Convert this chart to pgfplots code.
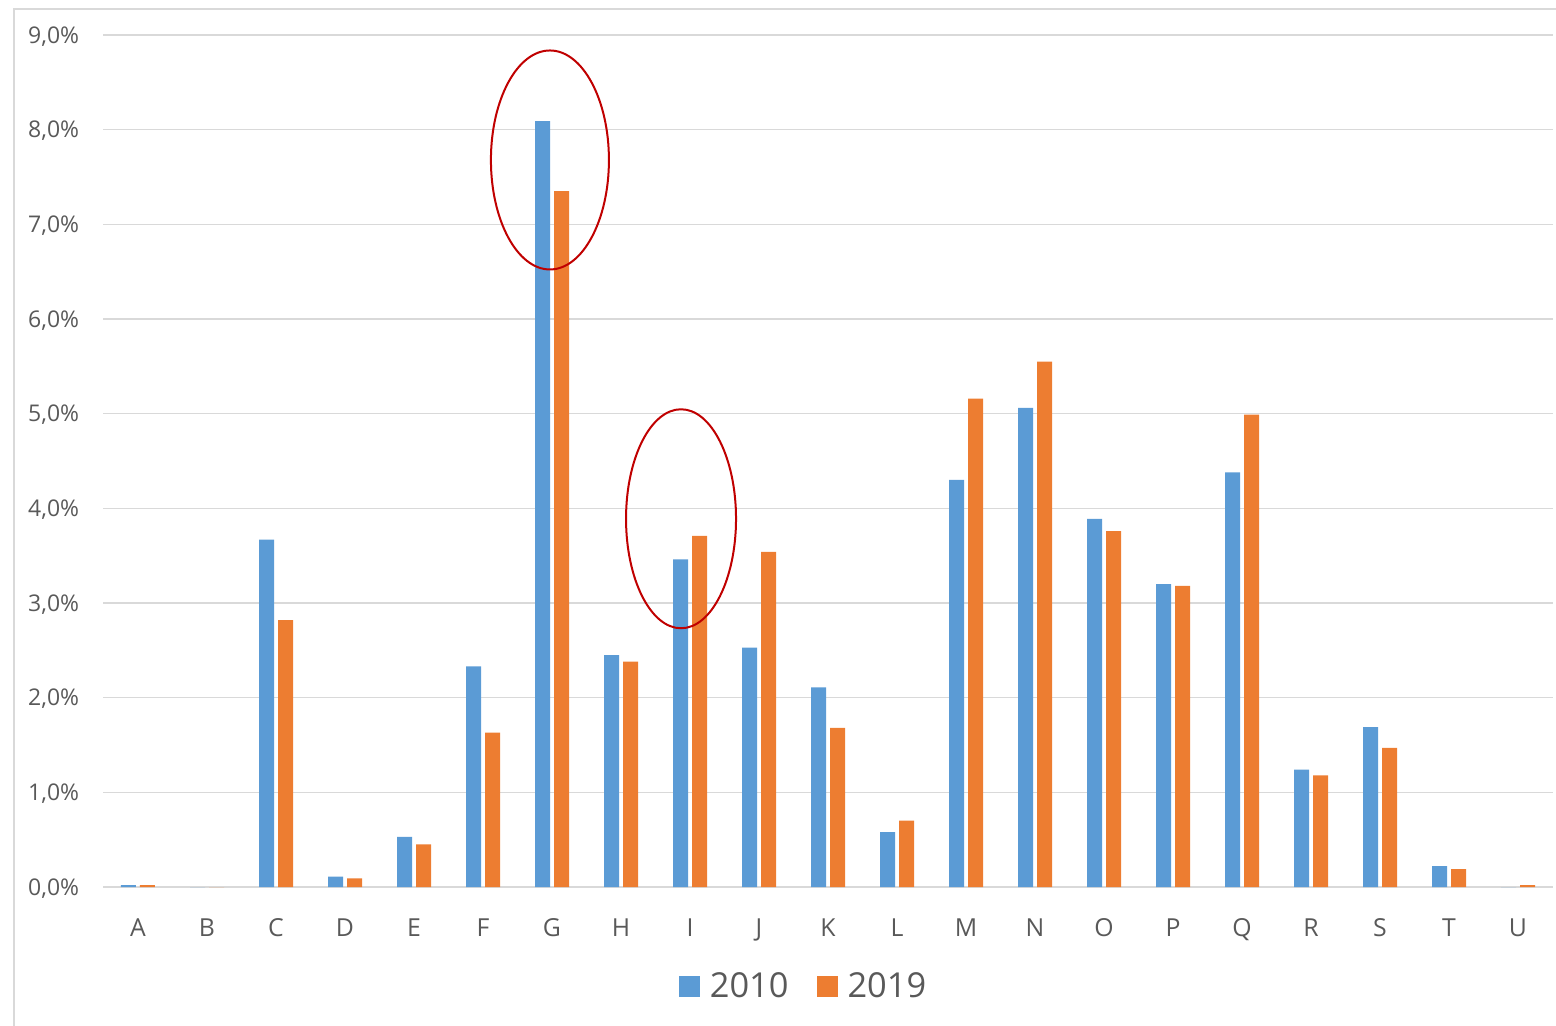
\documentclass[border=0pt]{standalone}
\usepackage{fontspec}
\setmainfont{Open Sans}
\usepackage{pgfplots}
\pgfplotsset{compat=1.18}

\definecolor{barblue}{HTML}{5B9BD5}
\definecolor{barorange}{HTML}{ED7D31}
\definecolor{gridgray}{HTML}{D9D9D9}
\definecolor{textgray}{HTML}{595959}
\definecolor{ringred}{HTML}{C00000}

\begin{document}
\begin{tikzpicture}
% picture size: 1px of the reference = 0.5pt
\useasboundingbox (-51.75pt,-69pt) rectangle (726.25pt,443.5pt);
\draw[gridgray, line width=1pt] (-44.75pt,-80pt) -- (-44.75pt,439pt) -- (740pt,439pt);
\begin{axis}[
    at={(0,0)}, anchor=south west,
    scale only axis,
    width=724.5pt, height=426pt,
    xmin=-0.5, xmax=20.5,
    ymin=0, ymax=9,
    ybar, bar width=7.5pt,
    clip=false,
    axis line style={draw=none},
    major tick length=0pt,
    ymajorgrids,
    grid style={gridgray, line width=0.8pt},
    xtick={0,...,20},
    xticklabels={A,B,C,D,E,F,G,H,I,J,K,L,M,N,O,P,Q,R,S,T,U},
    ytick={0,1,...,9},
    yticklabels={{0,0\%},{1,0\%},{2,0\%},{3,0\%},{4,0\%},{5,0\%},{6,0\%},{7,0\%},{8,0\%},{9,0\%}},
    x tick label style={font=\fontsize{12.4}{15}\selectfont, text=textgray,
        anchor=base, inner sep=0pt, yshift=-24.5pt},
    y tick label style={font=\fontsize{11.5}{14}\selectfont, text=textgray,
        anchor=base east, inner sep=0pt, xshift=-12pt, yshift=-4pt},
    legend columns=-1,
    legend style={draw=none, at={(0.4838,-0.117)}, anchor=center,
        font=\fontsize{17.2}{21}\selectfont, text=textgray,
        /tikz/every odd column/.append style={column sep=3pt},
        /tikz/every even column/.append style={column sep=12pt}},
]
\addplot[fill=barblue, draw=none, bar shift=-4.75pt,
    legend image code/.code={\fill[barblue] (0pt,-5pt) rectangle (10.5pt,5.5pt);}]
    coordinates {
    (0,0.02) (1,0) (2,3.67) (3,0.11) (4,0.53) (5,2.33) (6,8.09) (7,2.45)
    (8,3.46) (9,2.53) (10,2.11) (11,0.58) (12,4.30) (13,5.06) (14,3.89)
    (15,3.20) (16,4.38) (17,1.24) (18,1.69) (19,0.22) (20,0)
};
\addlegendentry{2010}
\addplot[fill=barorange, draw=none, bar shift=4.75pt,
    legend image code/.code={\fill[barorange] (0pt,-5pt) rectangle (10.5pt,5.5pt);}]
    coordinates {
    (0,0.02) (1,0) (2,2.82) (3,0.09) (4,0.45) (5,1.63) (6,7.35) (7,2.38)
    (8,3.71) (9,3.54) (10,1.68) (11,0.70) (12,5.16) (13,5.55) (14,3.76)
    (15,3.18) (16,4.99) (17,1.18) (18,1.47) (19,0.19) (20,0.02)
};
\addlegendentry{2019}
% highlight rings
\draw[ringred, line width=1pt] (axis cs:5.97,7.68) ellipse [x radius=29.5pt, y radius=54.75pt];
\draw[ringred, line width=1pt] (axis cs:7.87,3.89) ellipse [x radius=27.5pt, y radius=54.75pt];
\end{axis}
\end{tikzpicture}
\end{document}
